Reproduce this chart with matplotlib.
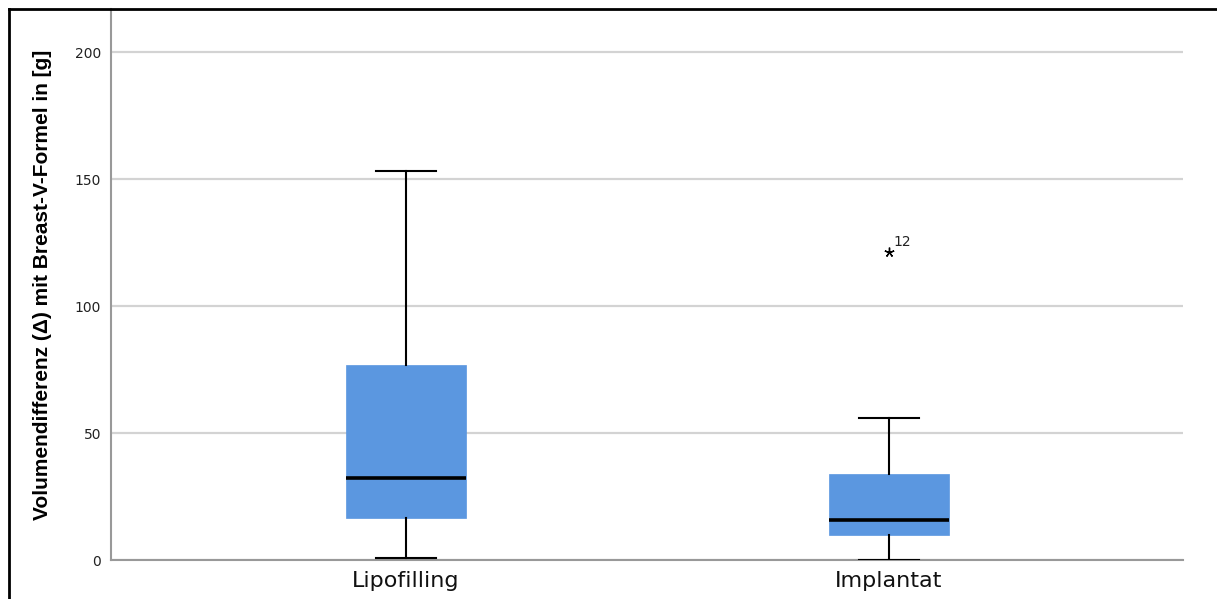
import matplotlib
matplotlib.use("Agg")
import matplotlib.pyplot as plt
from matplotlib.lines import Line2D

# Box summaries per group (values in g)
groups = ["Lipofilling", "Implantat"]
whisker_low = [0.8, 0.0]
q1 = [16.5, 9.8]
median = [32.3, 15.7]
q3 = [76.8, 33.9]
whisker_high = [153.1, 55.9]
outliers = [[], [121.3]]
outlier_ids = [[], ["12"]]

yticks = [0, 50, 100, 150, 200]
box_color = "#5b97e0"

W, H = 1217, 599
ax_left, ax_right, ax_bottom, ax_top = 111, 1183, 560, 9
fig = plt.figure(figsize=(W / 100, H / 100), dpi=100)
ax = fig.add_axes([ax_left / W, 1 - ax_bottom / H, (ax_right - ax_left) / W,
                   (ax_bottom - ax_top) / H])

stats = []
for i, g in enumerate(groups):
    stats.append(dict(label=g, whislo=whisker_low[i], q1=q1[i], med=median[i],
                      q3=q3[i], whishi=whisker_high[i], fliers=[]))

positions = [1, 2]
ax.bxp(stats, positions=positions, widths=0.25, patch_artist=True, showfliers=False,
       boxprops=dict(facecolor=box_color, edgecolor=box_color, linewidth=0.5),
       medianprops=dict(color="black", linewidth=2.6),
       whiskerprops=dict(color="black", linewidth=1.5),
       capprops=dict(color="black", linewidth=1.5), capwidths=0.125, zorder=3)

# Extreme values with case numbers
for pos, vals, ids in zip(positions, outliers, outlier_ids):
    for v, lab in zip(vals, ids):
        ax.plot([pos], [v], marker=(5, 2, 0), color="black", markersize=7,
                markeredgewidth=1.0, linestyle="none", zorder=4)
        ax.annotate(lab, (pos, v), xytext=(3, 4), textcoords="offset points",
                    fontsize=10, family="DejaVu Sans", color="#222222")

ax.set_xlim(0.389, 2.609)
ax.set_ylim(0, 217)
ax.set_yticks(yticks)
ax.set_yticklabels([str(t) for t in yticks], fontsize=10, color="#222222")
ax.set_xticks(positions)
ax.set_xticklabels(groups, fontsize=16, color="#111111")
ax.tick_params(axis="y", length=0, pad=7)
ax.tick_params(axis="x", length=0, pad=8)

ax.yaxis.grid(True, color="#d3d3d3", linewidth=1.6, zorder=0)
ax.set_axisbelow(True)
for side in ["top", "right"]:
    ax.spines[side].set_visible(False)
for side in ["left", "bottom"]:
    ax.spines[side].set_color("#999999")
    ax.spines[side].set_linewidth(1.5)

ax.set_ylabel("Volumendifferenz (\u0394) mit Breast-V-Formel in [g]",
              fontsize=15, fontweight="bold", family="Liberation Sans")
ax.yaxis.set_label_coords(-(ax_left - 52) / (ax_right - ax_left),
                          (ax_bottom - 285) / (ax_bottom - ax_top))

# Frame around the figure
fig.add_artist(Line2D([8.5 / W, 8.5 / W], [0, 1 - 8.5 / H], transform=fig.transFigure,
                      color="black", linewidth=2))
fig.add_artist(Line2D([8.5 / W, 1], [1 - 8.5 / H, 1 - 8.5 / H], transform=fig.transFigure,
                      color="black", linewidth=2))

fig.savefig("out.png", dpi=100)
